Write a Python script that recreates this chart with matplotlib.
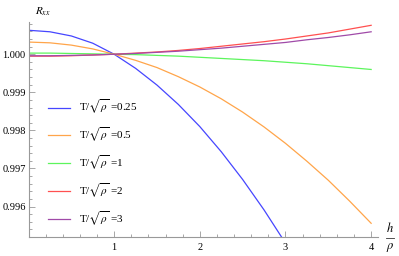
import numpy as np
import matplotlib.pyplot as plt
from matplotlib.lines import Line2D
from matplotlib.ticker import MultipleLocator, FormatStrFormatter

plt.rcParams['font.family'] = ['Liberation Serif', 'DejaVu Serif']
plt.rcParams['mathtext.fontset'] = 'stix'

# h/rho sample positions
x = [0.0, 0.25, 0.5, 0.75, 1.0, 1.25, 1.5, 1.75, 2.0, 2.25, 2.5, 2.75, 3.0, 3.25, 3.5, 3.75, 4.0]

# R_xx values (blue leaves the frame just before 3)
r_025 = [1.00063, 1.00059, 1.00048, 1.00029, 1.00000, 0.99963, 0.99919, 0.99868, 0.99810,
         0.99744, 0.99671, 0.99591, 0.99504]
r_05 = [1.00032, 1.00030, 1.00024, 1.00014, 1.00000, 0.99984, 0.99965, 0.99941, 0.99914,
        0.99883, 0.99848, 0.99809, 0.99766, 0.99719, 0.99669, 0.99614, 0.99556]
r_1 = [1.00003, 1.00003, 1.00002, 1.00001, 1.00000, 0.99999, 0.99997, 0.99995, 0.99992,
       0.99989, 0.99986, 0.99983, 0.99979, 0.99975, 0.99970, 0.99965, 0.99960]
r_2 = [0.99995, 0.99995, 0.99996, 0.99998, 1.00000, 1.00003, 1.00006, 1.00010, 1.00015,
       1.00021, 1.00027, 1.00033, 1.00040, 1.00048, 1.00056, 1.00066, 1.00076]
r_3 = [0.99996, 0.99996, 0.99997, 0.99998, 1.00000, 1.00002, 1.00005, 1.00008, 1.00012,
       1.00016, 1.00021, 1.00026, 1.00031, 1.00038, 1.00044, 1.00051, 1.00059]

labels = ['0.25', '0.5', '1', '2', '3']
colors = ['#4646ff', '#ffa54a', '#5cf55c', '#ff5050', '#a04aa8']
series = [r_025, r_05, r_1, r_2, r_3]

fig = plt.figure(figsize=(3.99, 2.56), dpi=100)
W, H = 399, 256
x0, x1 = 28.5, 378.0
yb, yt = 237.0, 21.5
ax = fig.add_axes([x0 / W, 1 - yb / H, (x1 - x0) / W, (yb - yt) / H])

for vals, lab, c in zip(series, labels, colors):
    ax.plot(x[:len(vals)], vals, color=c, lw=0.9, label=r'T/$\sqrt{\rho}$ =' + lab)

ax.set_xlim(0, 4.08)
ax.set_ylim(0.99520, 1.00086)

for s in ['top', 'right']:
    ax.spines[s].set_visible(False)
for s in ['left', 'bottom']:
    ax.spines[s].set_color('#999999')
    ax.spines[s].set_linewidth(0.8)

ax.xaxis.set_major_locator(MultipleLocator(1))
ax.xaxis.set_minor_locator(MultipleLocator(0.2))
ax.yaxis.set_major_locator(MultipleLocator(0.001))
ax.yaxis.set_minor_locator(MultipleLocator(0.0002))
ax.yaxis.set_major_formatter(FormatStrFormatter('%.3f'))
ax.set_xticks([1, 2, 3, 4])
ax.tick_params(which='both', direction='in', color='#999999', width=0.6, labelsize=7.5)
ax.tick_params(axis='x', pad=4)
ax.tick_params(axis='y', pad=2)
ax.tick_params(which='major', length=4)
ax.tick_params(which='minor', length=2.3)

# axis labels, Mathematica style
fig.text(35 / W, 1 - 12 / H, r'$R_{xx}$', fontsize=8, ha='left', va='center')
fig.text(390 / W, 1 - 228 / H, r'$h$', fontsize=9, ha='center', va='center')
fig.add_artist(Line2D([386 / W, 394 / W], [1 - 237.5 / H, 1 - 237.5 / H], color='#333333', lw=0.6))
fig.text(390 / W, 1 - 248 / H, r'$\rho$', fontsize=9, ha='center', va='center')

ax.legend(loc='upper left', bbox_to_anchor=(48 / W, 1 - 98 / H), bbox_transform=fig.transFigure,
          frameon=False, fontsize=8, handlelength=2.0, handletextpad=0.8, labelspacing=0.85,
          borderaxespad=0, borderpad=0)

plt.savefig('out.png', dpi=100)
